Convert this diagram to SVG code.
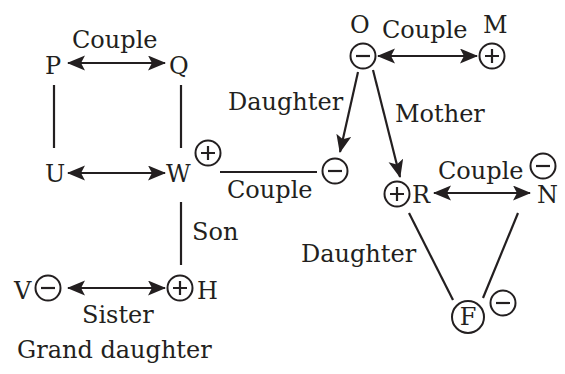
<svg xmlns="http://www.w3.org/2000/svg" width="565" height="374" viewBox="0 0 565 374">
<style>
text{font-family:"DejaVu Serif","Liberation Serif",serif;font-size:24px;fill:#231f20}
.ln{stroke:#231f20;stroke-width:2.2;fill:none}
.c{stroke:#231f20;stroke-width:2;fill:none}
.ar{marker-end:url(#ah)}
.dbl{marker-start:url(#ah);marker-end:url(#ah)}
</style>
<defs>
<marker id="ah" markerUnits="userSpaceOnUse" markerWidth="19" markerHeight="16" refX="17" refY="7.5" orient="auto-start-reverse" viewBox="0 0 19 16">
<path d="M0,0 L18,7.5 L0,15 L4,7.5 z" fill="#231f20"/>
</marker>
<g id="minus"><circle class="c" r="12.5"/><path class="ln" d="M-7,0 H7" stroke-width="1.6"/></g>
<g id="plus"><circle class="c" r="12.5"/><path class="ln" d="M-7,0 H7 M0,-7 V7" stroke-width="1.6"/></g>
</defs>
<rect width="565" height="374" fill="#fff"/>
<g id="connectors">
<line class="ln dbl" x1="68" y1="63" x2="165" y2="63"/>
<line class="ln" x1="54" y1="85" x2="54" y2="148"/>
<line class="ln" x1="181" y1="85" x2="181" y2="148"/>
<line class="ln dbl" x1="68" y1="173" x2="165" y2="173"/>
<line class="ln" x1="220" y1="172" x2="317" y2="172"/>
<line class="ln" x1="181" y1="202" x2="181" y2="265"/>
<line class="ln dbl" x1="68" y1="288" x2="165" y2="288"/>
<line class="ln dbl" x1="378" y1="56" x2="477" y2="56"/>
<line class="ln ar" x1="358" y1="72" x2="340" y2="152"/>
<line class="ln ar" x1="373" y1="70" x2="400" y2="177"/>
<line class="ln dbl" x1="434" y1="193" x2="530" y2="193"/>
<line class="ln" x1="409" y1="213" x2="453" y2="300"/>
<line class="ln" x1="518" y1="213" x2="483" y2="298"/>
</g>
<g id="P"><text x="45" y="74">P</text></g>
<g id="Q"><text x="169" y="74">Q</text></g>
<g id="U"><text x="45" y="182">U</text></g>
<g id="W"><text x="166" y="182">W</text><use href="#plus" x="208" y="153"/></g>
<g id="Wwife"><use href="#minus" x="335" y="171"/></g>
<g id="H"><use href="#plus" x="180" y="288"/><text x="197" y="299">H</text></g>
<g id="V"><text x="14" y="299">V</text><use href="#minus" x="48" y="288"/></g>
<g id="O"><text x="350" y="33">O</text><use href="#minus" x="363" y="56"/></g>
<g id="M"><text x="483" y="33">M</text><use href="#plus" x="492" y="56"/></g>
<g id="R"><use href="#plus" x="397" y="194"/><text x="412" y="203">R</text></g>
<g id="N"><text x="537" y="203">N</text><use href="#minus" x="543" y="166"/></g>
<g id="F"><circle class="c" cx="468" cy="317" r="16"/><text x="468" y="325" text-anchor="middle" font-size="22">F</text><use href="#minus" x="503" y="303"/></g>
<g id="labels">
<text x="72" y="48">Couple</text>
<text x="382" y="38">Couple</text>
<text x="228" y="110">Daughter</text>
<text x="395" y="122">Mother</text>
<text x="227" y="198">Couple</text>
<text x="438" y="179">Couple</text>
<text x="192" y="240">Son</text>
<text x="301" y="262">Daughter</text>
<text x="82" y="323">Sister</text>
<text x="17" y="358">Grand daughter</text>
</g>
</svg>
